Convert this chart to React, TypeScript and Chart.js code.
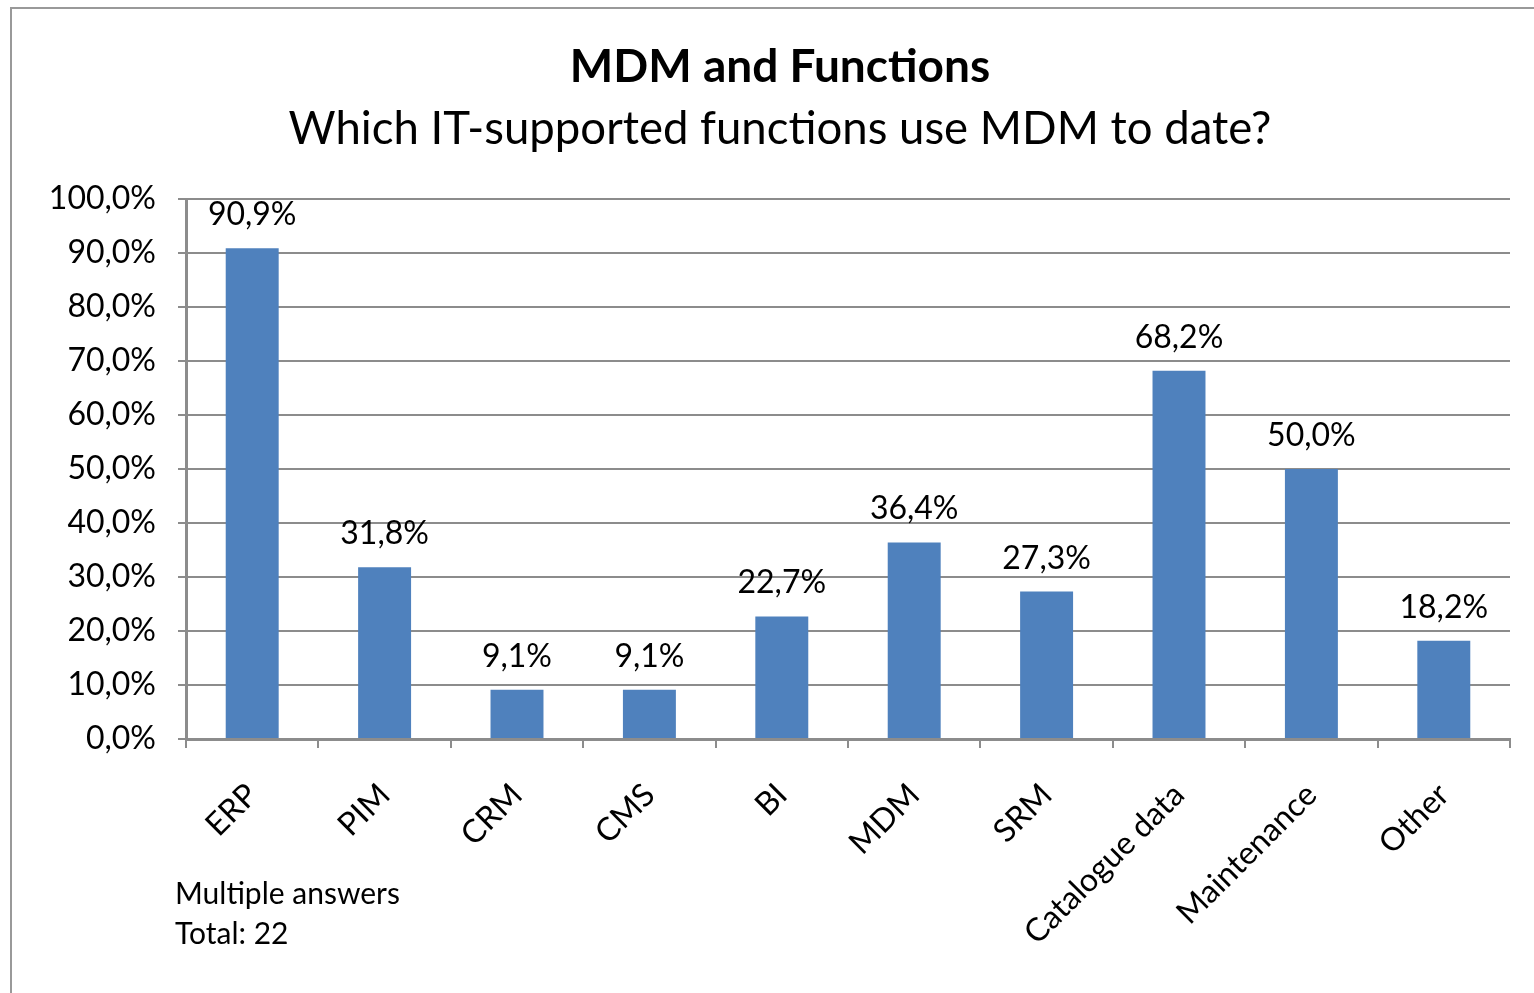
import React, { useEffect, useRef } from "react";
import { Chart, registerables } from "chart.js";

Chart.register(...registerables);

const categories = ["ERP", "PIM", "CRM", "CMS", "BI", "MDM", "SRM", "Catalogue data", "Maintenance", "Other"];
const values = [90.9, 31.8, 9.1, 9.1, 22.7, 36.4, 27.3, 68.2, 50.0, 18.2];
const titleText = "MDM and Functions";
const subtitleText = "Which IT-supported functions use MDM to date?";
const footnoteLines = ["Multiple answers", "Total: 22"];

const FONT = "Lato";
const GRAY = "#8c8c8c";
const BAR = "#4f81bd";

const fmt = (v: number) => v.toFixed(1).replace(".", ",") + "%";

const overlayPlugin = {
  id: "overlay",
  beforeDraw(chart: any) {
    const ctx = chart.ctx;
    ctx.save();
    ctx.fillStyle = "#ffffff";
    ctx.fillRect(0, 0, chart.width, chart.height);
    ctx.strokeStyle = "#999999";
    ctx.lineWidth = 2;
    ctx.beginPath();
    ctx.moveTo(11, chart.height + 5);
    ctx.lineTo(11, 8);
    ctx.lineTo(chart.width + 5, 8);
    ctx.stroke();
    ctx.restore();
  },
  afterDraw(chart: any) {
    const ctx = chart.ctx;
    ctx.save();
    ctx.fillStyle = "#000000";
    ctx.textAlign = "center";
    ctx.textBaseline = "alphabetic";
    ctx.font = `bold 46px ${FONT}`;
    ctx.fillText(titleText, 780, 82);
    ctx.font = `45.5px ${FONT}`;
    ctx.fillText(subtitleText, 780, 144);

    ctx.font = `32px ${FONT}`;
    const meta = chart.getDatasetMeta(0);
    meta.data.forEach((bar: any, i: number) => {
      ctx.fillText(fmt(values[i]), bar.x, bar.y - 23);
    });

    ctx.font = `30px ${FONT}`;
    ctx.textAlign = "left";
    ctx.fillText(footnoteLines[0], 175, 904);
    ctx.fillText(footnoteLines[1], 175, 944);
    ctx.restore();
  },
};

export default function App() {
  const ref = useRef<HTMLCanvasElement | null>(null);
  useEffect(() => {
    if (!ref.current) return;
    const chart = new Chart(ref.current, {
      type: "bar",
      data: {
        labels: categories,
        datasets: [
          {
            data: values,
            backgroundColor: BAR,
            borderWidth: 0,
            barPercentage: 0.8,
            categoryPercentage: 0.5,
          },
        ],
      },
      options: {
        responsive: false,
        animation: false,
        devicePixelRatio: 1,
        layout: { padding: { top: 199, right: 24, left: 2, bottom: 0 } },
        plugins: {
          legend: { display: false },
          title: { display: false },
          tooltip: { enabled: false },
        },
        scales: {
          x: {
            offset: true,
            afterFit(scale: any) {
              scale.height = 254;
            },
            grid: {
              offset: true,
              drawOnChartArea: false,
              drawTicks: true,
              tickLength: 9,
              color: GRAY,
              lineWidth: 2,
            },
            border: { display: true, color: GRAY, width: 3 },
            ticks: {
              color: "#000000",
              font: { family: FONT, size: 32 },
              maxRotation: 45,
              minRotation: 45,
              padding: 28,
              autoSkip: false,
            },
          },
          y: {
            min: 0,
            max: 100,
            afterFit(scale: any) {
              scale.width = 184;
            },
            grid: {
              color: GRAY,
              lineWidth: 2,
              tickLength: 8,
              drawTicks: true,
            },
            border: { display: true, color: GRAY, width: 3 },
            ticks: {
              stepSize: 10,
              color: "#000000",
              font: { family: FONT, size: 32 },
              padding: 22,
              callback: (v: any) => fmt(Number(v)),
            },
          },
        },
      },
      plugins: [overlayPlugin],
    });
    return () => chart.destroy();
  }, []);
  return (
    <div style={{ position: "fixed", left: 0, top: 0, width: 1534, height: 993, background: "#fff" }}>
      <canvas ref={ref} width={1534} height={993} style={{ display: "block" }} />
    </div>
  );
}
